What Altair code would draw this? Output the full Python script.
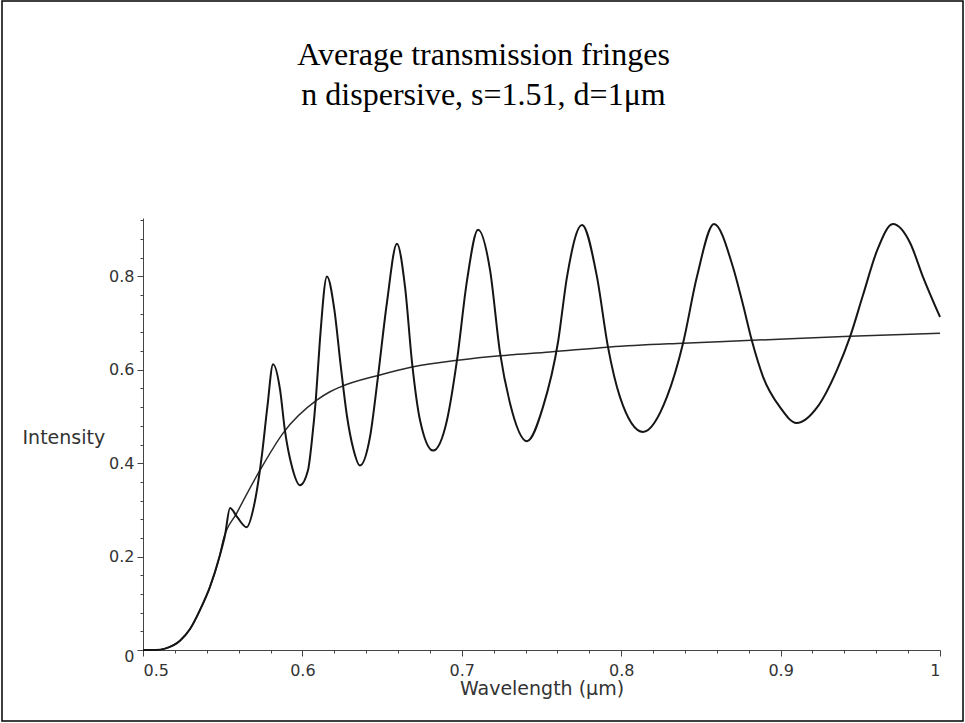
import altair as alt
import pandas as pd

# Oscillating transmission curve
wl_T = [0.500, 0.508, 0.5138, 0.5232, 0.5295, 0.5358, 0.542, 0.548, 0.5514, 0.5546,
        0.5590, 0.5650, 0.5700, 0.5747, 0.5780, 0.5816, 0.5860, 0.5890, 0.5935, 0.5985,
        0.6035, 0.6060, 0.6085, 0.6110, 0.6154, 0.6200, 0.6240, 0.6280, 0.6320, 0.6361,
        0.6424, 0.6474, 0.6530, 0.6593, 0.6644, 0.6688, 0.6738, 0.6820, 0.6907, 0.6970,
        0.7033, 0.7102, 0.7177, 0.7240, 0.7302, 0.7409, 0.7509, 0.7604, 0.7660, 0.7754,
        0.7848, 0.7917, 0.7992, 0.8137, 0.8287, 0.8388, 0.8475, 0.8582, 0.8701, 0.8760,
        0.8820, 0.8890, 0.8996, 0.9100, 0.9230, 0.9354, 0.9435, 0.9517, 0.9605, 0.9705,
        0.9812, 0.9893, 1.000]
int_T = [0.000, 0.000, 0.003, 0.020, 0.045, 0.086, 0.135, 0.200, 0.245, 0.304,
         0.285, 0.263, 0.315, 0.420, 0.520, 0.612, 0.557, 0.471, 0.392, 0.353,
         0.385, 0.450, 0.540, 0.664, 0.800, 0.730, 0.610, 0.500, 0.430, 0.395,
         0.456, 0.585, 0.743, 0.870, 0.777, 0.615, 0.492, 0.427, 0.492, 0.621,
         0.792, 0.900, 0.814, 0.636, 0.529, 0.447, 0.520, 0.660, 0.799, 0.910,
         0.799, 0.649, 0.542, 0.467, 0.542, 0.657, 0.799, 0.912, 0.820, 0.745,
         0.662, 0.585, 0.520, 0.486, 0.520, 0.600, 0.670, 0.760, 0.855, 0.912,
         0.872, 0.799, 0.713]

# Average (smooth) curve
wl_avg = [0.500, 0.508, 0.5138, 0.5232, 0.5295, 0.5358, 0.542, 0.548, 0.5504, 0.5588,
          0.5734, 0.5880, 0.6090, 0.6173, 0.6236, 0.6487, 0.6688, 0.6989, 0.7240, 0.7553,
          0.7930, 0.8388, 0.8820, 0.9435, 1.000]
int_avg = [0.000, 0.000, 0.003, 0.020, 0.045, 0.086, 0.135, 0.200, 0.236, 0.293,
           0.385, 0.465, 0.535, 0.553, 0.563, 0.589, 0.606, 0.621, 0.630, 0.638,
           0.649, 0.657, 0.663, 0.672, 0.678]

x_ticks = [0.5, 0.52, 0.54, 0.56, 0.58, 0.6, 0.62, 0.64, 0.66, 0.68, 0.7, 0.72, 0.74,
           0.76, 0.78, 0.8, 0.82, 0.84, 0.86, 0.88, 0.9, 0.92, 0.94, 0.96, 0.98, 1.0]
y_ticks = [0.0, 0.04, 0.08, 0.12, 0.16, 0.2, 0.24, 0.28, 0.32, 0.36, 0.4, 0.44, 0.48,
           0.52, 0.56, 0.6, 0.64, 0.68, 0.72, 0.76, 0.8, 0.84, 0.88, 0.92]

title_lines = ["Average transmission fringes", "n dispersive, s=1.51, d=1\u03bcm"]

df_T = pd.DataFrame({"wl": wl_T, "I": int_T})
df_avg = pd.DataFrame({"wl": wl_avg, "I": int_avg})

x_major = "abs(datum.value*10 - round(datum.value*10)) < 0.001"
y_major = "abs(datum.value*5 - round(datum.value*5)) < 0.001"

x_axis = alt.Axis(
    values=x_ticks,
    labelExpr=f"{x_major} ? format(datum.value, '~g') : ''",
    tickSize={"condition": {"test": x_major, "value": 6}, "value": 3},
    labelOverlap=False, labelFlush=True, labelPadding=6,
    grid=False, domainColor="#444", tickColor="#444",
    labelFont="DejaVu Sans", labelFontSize=16, labelColor="#333",
    title="Wavelength (\u03bcm)", titleFont="DejaVu Sans", titleFontSize=19,
    titleFontWeight="normal", titleColor="#333", titleY=38, titleBaseline="middle",
)
y_axis = alt.Axis(
    values=y_ticks,
    labelExpr=f"{y_major} ? format(datum.value, '~g') : ''",
    tickSize={"condition": {"test": y_major, "value": 6}, "value": 3},
    labelOffset={"condition": {"test": "datum.value == 0", "value": 6}, "value": 0},
    labelOverlap=False, labelPadding=3,
    grid=False, domainColor="#444", tickColor="#444",
    labelFont="DejaVu Sans", labelFontSize=16, labelColor="#333",
    title="Intensity", titleFont="DejaVu Sans", titleFontSize=19,
    titleFontWeight="normal", titleColor="#333", titleAngle=0,
    titleAlign="left", titleBaseline="middle", titleX=-121, titleY=219,
)

x_enc = alt.X("wl:Q", scale=alt.Scale(domain=[0.5, 1.0], nice=False, zero=False), axis=x_axis)
y_enc = alt.Y("I:Q", scale=alt.Scale(domain=[0, 0.925], nice=False), axis=y_axis)

line_avg = alt.Chart(df_avg).mark_line(color="#2a2a2a", strokeWidth=1.5, interpolate="monotone").encode(
    x=x_enc, y=y_enc)
line_T = alt.Chart(df_T).mark_line(color="#151515", strokeWidth=2, interpolate="monotone").encode(
    x=x_enc, y=y_enc)

frame = alt.Chart(alt.Data(values=[{}])).mark_rect(filled=False, stroke="black", strokeWidth=1.5).encode(
    x=alt.value(-141), x2=alt.value(820), y=alt.value(-217), y2=alt.value(503))

chart = alt.layer(line_avg, line_T, frame).properties(
    width=797, height=432,
    padding={"left": 143, "top": 218, "right": 25, "bottom": 73},
    autosize="none",
    background="white",
    title=alt.TitleParams(
        text=title_lines, font="Liberation Serif", fontSize=32, fontWeight="normal",
        color="black", lineHeight=40, anchor="middle", dx=-58, offset=-112,
    ),
).configure_view(stroke="transparent", strokeWidth=0).configure_axis(labelOverlap=False)

chart.save("out.html", embed_options={"renderer": "svg", "actions": False})
